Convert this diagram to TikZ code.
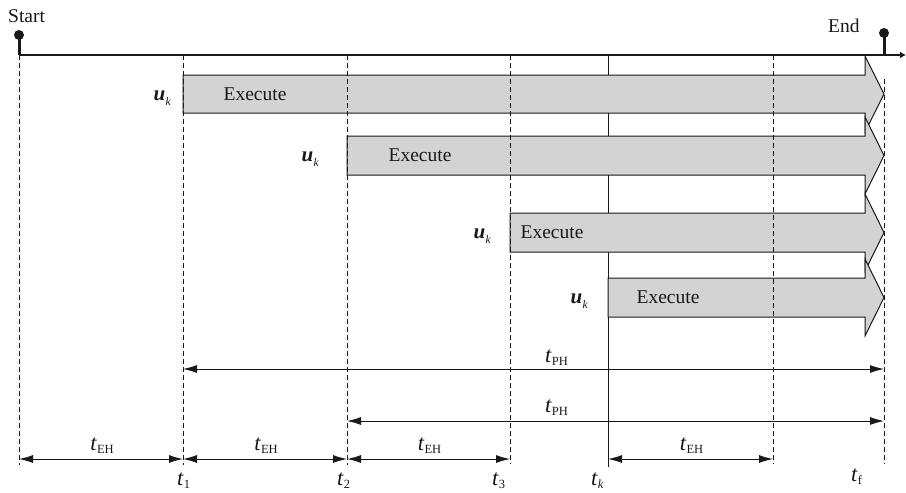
\documentclass[tikz,border=0pt]{standalone}
\usepackage{fontspec}
\setmainfont{Liberation Serif}
\usetikzlibrary{arrows.meta}
\definecolor{fillg}{RGB}{211,211,211}
\definecolor{ink}{RGB}{25,25,25}
\newcommand{\tvar}{{\fontsize{22.5}{24}\selectfont\itshape t}}
\newcommand{\tlab}[1]{\tvar\kern0.5pt\raisebox{-3.5pt}{\fontsize{12.5}{13}\selectfont #1}}
\newcommand{\uklab}{{\fontsize{21}{22}\selectfont\bfseries\itshape u}\kern0.5pt\raisebox{-5pt}{\fontsize{11.5}{12}\selectfont\itshape k}}
\begin{document}
\begin{tikzpicture}[x=1pt,y=-1pt,
  txt/.style={font=\fontsize{19.5}{22}\selectfont, inner sep=0pt, text=ink},
  guide/.style={draw=ink,line width=0.9pt,dash pattern=on 5pt off 3pt},
  blockarrow/.style={draw=ink,fill=fillg,line width=1pt,line join=miter},
  dim/.style={draw=ink,line width=1pt,{Latex[length=14pt,width=8pt]}-{Latex[length=14pt,width=8pt]}},
  pin/.style={circle,fill=ink,inner sep=0pt,minimum size=10pt}]
\useasboundingbox (0,0) rectangle (906,493);
\fill[white] (0,0) rectangle (906,493);

% t_k solid line (under the arrows)
\coordinate (tkTop) at (608,55);
\coordinate (tkBot) at (608,467);
\draw[ink,line width=1pt] (tkTop) -- (tkBot);

% block arrows
\draw[blockarrow] (183,75) -- (865,75) -- (865,56) -- (884,94) -- (865,132) -- (865,113) -- (183,113) -- cycle;
\draw[blockarrow] (347,136) -- (865,136) -- (865,117) -- (884,155.5) -- (865,194) -- (865,175) -- (347,175) -- cycle;
\draw[blockarrow] (510,213) -- (865,213) -- (865,194) -- (884,232.5) -- (865,271) -- (865,252) -- (510,252) -- cycle;
\draw[blockarrow] (608,278) -- (865,278) -- (865,259) -- (884,297.5) -- (865,336) -- (865,317) -- (608,317) -- cycle;

\node[txt] (ex1) at (255,94) {Execute};
\node[txt] (ex2) at (420,155.5) {Execute};
\node[txt] (ex3) at (552,232.5) {Execute};
\node[txt] (ex4) at (668,297.5) {Execute};

\node[txt,anchor=base east] (u1) at (171,100) {\uklab};
\node[txt,anchor=base east] (u2) at (319,161.5) {\uklab};
\node[txt,anchor=base east] (u3) at (491,238.5) {\uklab};
\node[txt,anchor=base east] (u4) at (588,303.5) {\uklab};

% dashed guide lines
\coordinate (g0t) at (19,55);  \coordinate (g0b) at (19,465);
\coordinate (g1t) at (183,55); \coordinate (g1b) at (183,465);
\coordinate (g2t) at (347,55); \coordinate (g2b) at (347,465);
\coordinate (g3t) at (510,55); \coordinate (g3b) at (510,464);
\coordinate (g4t) at (773,55); \coordinate (g4b) at (773,464);
\coordinate (g5t) at (884,79); \coordinate (g5b) at (884,464);
\foreach \i in {0,...,5} \draw[guide] (g\i t) -- (g\i b);

% timeline
\coordinate (tlS) at (19,55);
\coordinate (tlE) at (906,55);
\draw[ink,line width=1.4pt,-{Latex[length=6pt,width=7pt]}] (tlS) -- (tlE);
\node[pin] (spin) at (19,35) {};
\node[pin] (epin) at (884,33) {};
\draw[ink,line width=3pt] (spin.center) -- (19,55);
\draw[ink,line width=3pt] (epin.center) -- (884,55);
\node[txt,anchor=base west] (start) at (8,22) {Start};
\node[txt,anchor=base west] (end) at (828,32) {End};

% prediction horizon arrows
\coordinate (p1a) at (183,369); \coordinate (p1b) at (884,369);
\coordinate (p2a) at (347,421); \coordinate (p2b) at (884,421);
\draw[dim] (p1a) -- (p1b);
\draw[dim] (p2a) -- (p2b);
\node[txt,anchor=base west] (tph1) at (545,362) {\tlab{PH}};
\node[txt,anchor=base west] (tph2) at (545,412) {\tlab{PH}};

% execution horizon arrows
\coordinate (e0) at (19,459); \coordinate (e1) at (183,459);
\coordinate (e2) at (347,459); \coordinate (e3) at (510,459);
\coordinate (e4) at (608,459); \coordinate (e5) at (773,459);
\draw[dim] (e0) -- (e1);
\draw[dim] (e1) -- (e2);
\draw[dim] (e2) -- (e3);
\draw[dim] (e4) -- (e5);
\node[txt,anchor=base] (teh1) at (102,450) {\tlab{EH}};
\node[txt,anchor=base] (teh2) at (266,450) {\tlab{EH}};
\node[txt,anchor=base] (teh3) at (429.5,450) {\tlab{EH}};
\node[txt,anchor=base] (teh4) at (691.5,450) {\tlab{EH}};

% time labels
\node[txt,anchor=base west] (t1) at (177,485) {\tlab{1}};
\node[txt,anchor=base west] (t2) at (337,485) {\tlab{2}};
\node[txt,anchor=base west] (t3) at (492,485) {\tlab{3}};
\node[txt,anchor=base west] (tk) at (591,485) {\tlab{\itshape k}};
\node[txt,anchor=base west] (tf) at (851,481) {\tlab{f}};
\end{tikzpicture}
\end{document}
